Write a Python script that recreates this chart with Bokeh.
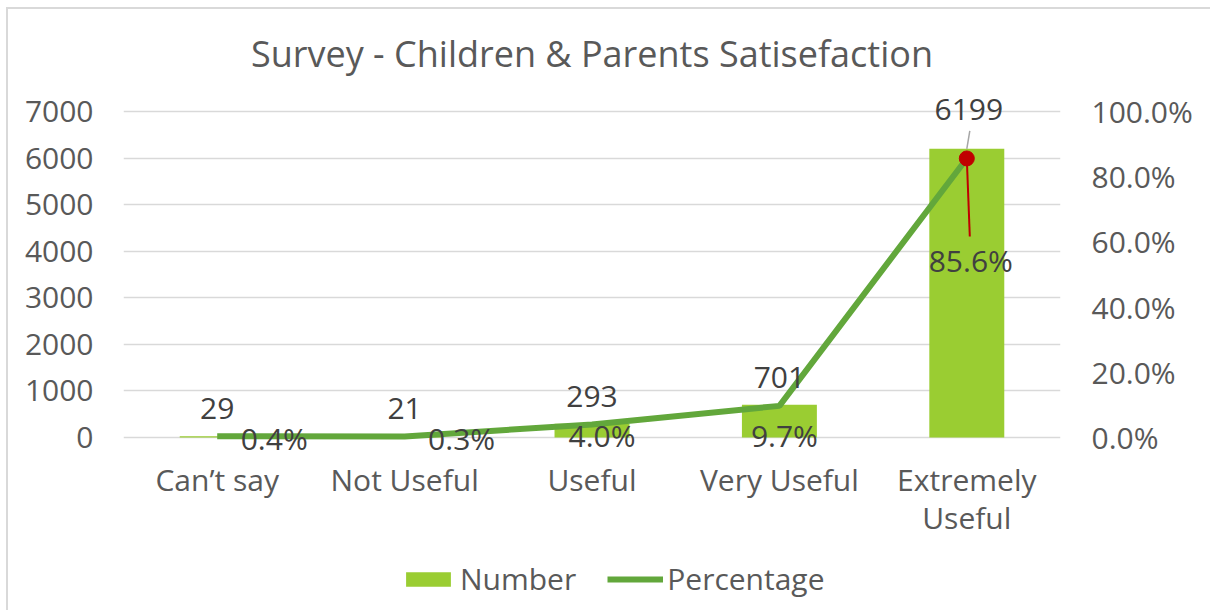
from bokeh.plotting import figure
from bokeh.layouts import column
from bokeh.models import (ColumnDataSource, Range1d, LinearAxis, FixedTicker,
                          NumeralTickFormatter, LabelSet, Legend, LegendItem)
from bokeh.core.properties import value
from bokeh.embed import file_html
from bokeh.resources import INLINE

# ---- data ----
categories = ["Can\u2019t say", "Not Useful", "Useful", "Very Useful", "Extremely Useful"]
numbers = [29, 21, 293, 701, 6199]
percentages = [0.004, 0.003, 0.040, 0.097, 0.856]
number_labels = ["29", "21", "293", "701", "6199"]
percent_labels = ["0.4%", "0.3%", "4.0%", "9.7%", "85.6%"]
left_ticks = [0, 1000, 2000, 3000, 4000, 5000, 6000, 7000]
right_ticks = [0.0, 0.2, 0.4, 0.6, 0.8, 1.0]
N_MAX = 7000
P_MAX = 1.0

# ---- style / layout constants ----
FONT = "Open Sans"
BAR_COLOR = "#9ACD32"
LINE_COLOR = "#62A73B"
RED = "#C00000"
TICK_COLOR = "#595959"
LABEL_COLOR = "#404040"
GRID_COLOR = "#D9D9D9"
FS = "30px"

OX, OY = 8, 9                # canvas offset on the page (margin + border)
W, H = 1210 - OX, 550 - OY
H2 = 60
AXIS_PX = 326                # pixels from 0 to 7000
EXT_TOP, EXT_BOT = 21, 16    # extra frame pixels above 7000 / below 0
ML = 123 - OX
MT = 111 - EXT_TOP - OY
MR = OX + W - 1060
MB = OY + H - (437 + EXT_BOT)
frame_w = W - ML - MR

n_per_px = N_MAX / AXIS_PX
p_per_px = P_MAX / AXIS_PX

xs = list(range(len(categories)))

p = figure(width=W, height=H, output_backend="svg", toolbar_location=None,
           x_range=Range1d(-0.5, len(categories) - 0.5),
           y_range=Range1d(-EXT_BOT * n_per_px, N_MAX + EXT_TOP * n_per_px),
           min_border_left=ML, min_border_right=MR,
           min_border_top=MT, min_border_bottom=MB,
           tools="")
p.extra_y_ranges = {"pct": Range1d(-EXT_BOT * p_per_px, P_MAX + EXT_TOP * p_per_px)}
p.outline_line_color = None
p.background_fill_color = "white"
p.border_fill_color = "white"

# title
p.title.text = "Survey - Children & Parents Satisefaction"
p.title.align = "center"
p.title.text_font = FONT
p.title.text_font_size = "36px"
p.title.text_font_style = "normal"
p.title.text_color = TICK_COLOR
p.title.standoff = 25

# x axis
xa = p.xaxis[0]
xa.ticker = FixedTicker(ticks=xs)
xa.major_label_overrides = {i: (c if c != "Extremely Useful" else "Extremely\nUseful")
                            for i, c in zip(xs, categories)}
xa.axis_line_color = None
xa.major_tick_line_color = None
xa.minor_tick_line_color = None
xa.major_tick_out = 0
xa.major_tick_in = 0
xa.major_label_standoff = 5
xa.major_label_text_font = FONT
xa.major_label_text_font_size = FS
xa.major_label_text_color = TICK_COLOR
xa.major_label_text_line_height = 0.93

# left axis
ya = p.yaxis[0]
ya.ticker = FixedTicker(ticks=left_ticks)
ya.axis_line_color = None
ya.major_tick_line_color = None
ya.minor_tick_line_color = None
ya.major_tick_out = 0
ya.major_tick_in = 0
ya.major_label_standoff = 30
ya.major_label_text_font = FONT
ya.major_label_text_font_size = FS
ya.major_label_text_color = TICK_COLOR

# right axis
ra = LinearAxis(y_range_name="pct", ticker=FixedTicker(ticks=right_ticks),
                formatter=NumeralTickFormatter(format="0.0%"))
ra.axis_line_color = None
ra.major_tick_line_color = None
ra.minor_tick_line_color = None
ra.major_tick_out = 0
ra.major_tick_in = 0
ra.major_label_standoff = 31
ra.major_label_text_font = FONT
ra.major_label_text_font_size = FS
ra.major_label_text_color = TICK_COLOR
p.add_layout(ra, "right")

p.xgrid.grid_line_color = None
p.ygrid.grid_line_color = GRID_COLOR
p.ygrid.grid_line_width = 1.5
p.ygrid.ticker = FixedTicker(ticks=left_ticks)

src = ColumnDataSource(dict(
    x=xs, num=numbers, pct=percentages,
    nlab=number_labels, plab=percent_labels,
    n_xoff=[0, 0, 0, 0, 2], n_yoff=[28, 28, 27, 27, 39],
    p_xoff=[57, 57, 10, 5, 4], p_yoff=[-2, -2, -11, -30, -102],
))

bars = p.vbar(x="x", top="num", width=0.4, source=src,
              fill_color=BAR_COLOR, line_color=None)
line = p.line(x="x", y="pct", source=src, y_range_name="pct",
              line_color=LINE_COLOR, line_width=6)

# leader lines for the last point (lengths in px converted to data units)
last = len(xs) - 1
x_per_px = len(xs) / frame_w
p.segment(x0=[xs[last] + 3 * x_per_px], y0=[numbers[last] + 18 * n_per_px],
          x1=[xs[last]], y1=[numbers[last]],
          line_color="#A6A6A6", line_width=1.5)
p.segment(x0=[xs[last]], y0=[percentages[last]],
          x1=[xs[last] + 3 * x_per_px], y1=[percentages[last] - 78 * p_per_px],
          line_color=RED, line_width=2, y_range_name="pct")
p.scatter(x=[xs[last]], y=[percentages[last]], size=15, fill_color=RED,
          line_color=RED, y_range_name="pct")

nl = LabelSet(x="x", y="num", text="nlab", source=src,
              x_offset="n_xoff", y_offset="n_yoff",
              text_align="center", text_baseline="middle",
              text_font=value(FONT), text_font_size=value(FS),
              text_color=LABEL_COLOR)
pl = LabelSet(x="x", y="pct", text="plab", source=src, y_range_name="pct",
              x_offset="p_xoff", y_offset="p_yoff",
              text_align="center", text_baseline="middle",
              text_font=value(FONT), text_font_size=value(FS),
              text_color=LABEL_COLOR)
p.add_layout(nl)
p.add_layout(pl)

# ---- legend strip (separate figure so the legend is not clipped) ----
p2 = figure(width=W, height=H2, output_backend="svg", toolbar_location=None,
            x_range=Range1d(0, 1), y_range=Range1d(0, 1),
            x_axis_type=None, y_axis_type=None, tools="",
            min_border_left=ML, min_border_right=MR,
            min_border_top=0, min_border_bottom=0)
p2.outline_line_color = None
p2.background_fill_color = "white"
p2.border_fill_color = "white"
# swatch glyphs carry the series styles; their single points sit outside the view
lbar = p2.vbar(x=[-10], top=[-10], width=0.4, fill_color=BAR_COLOR, line_color=None)
lline = p2.line(x=[-10, -9], y=[-10, -10], line_color=LINE_COLOR, line_width=6)

legend = Legend(items=[LegendItem(label="Number", renderers=[lbar]),
                       LegendItem(label="Percentage", renderers=[lline])],
                orientation="horizontal", location=(400 - 123, 11),
                glyph_width=56, glyph_height=18, label_standoff=4, spacing=31,
                padding=0, margin=0, border_line_color=None,
                background_fill_alpha=0,
                label_text_font=FONT, label_text_font_size=FS,
                label_text_color=TICK_COLOR)
p2.add_layout(legend, "center")

layout = column(p, p2, spacing=0)
layout.styles = {"border-left": "2px solid #D9D9D9", "border-top": "2px solid #D9D9D9",
                 "margin-left": "6px", "margin-top": "7px"}
open("out.html", "w").write(file_html(layout, INLINE))
